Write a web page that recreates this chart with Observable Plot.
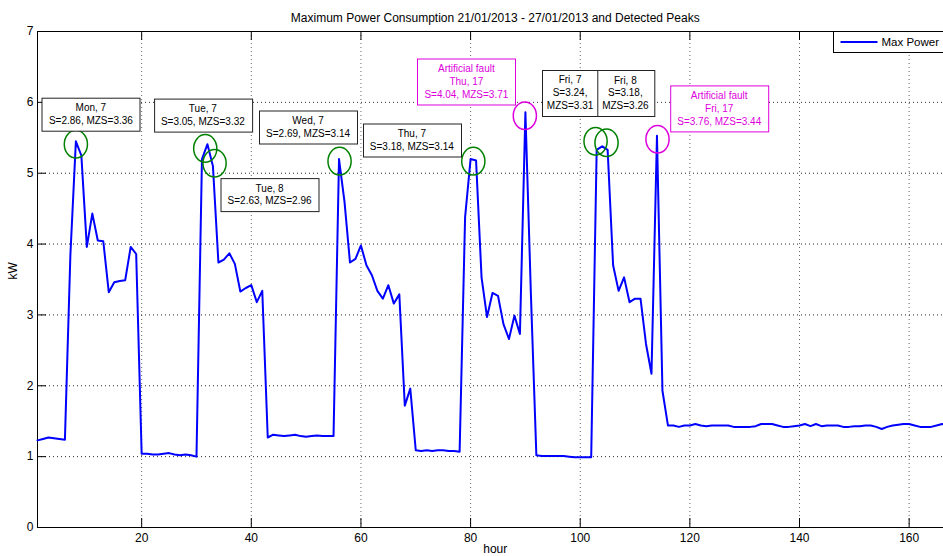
<!DOCTYPE html>
<html><head><meta charset="utf-8">
<script src="https://cdn.jsdelivr.net/npm/d3@7"></script>
<script src="https://cdn.jsdelivr.net/npm/@observablehq/plot@0.6"></script>
<style>
html,body{margin:0;padding:0;overflow:hidden;background:#fff;width:943px;height:556px}
#chart{width:943px;height:556px;overflow:hidden}
#chart svg{display:block;max-width:none !important}
</style></head><body><div id="chart"></div>
<script>
// ---- data (hourly maximum power, kW) ----
const mon = [1.23,1.25,1.27,1.26,1.25,1.24,3.85,5.45,5.25,3.96,4.43,4.05,4.04,3.32,3.46,3.48,3.49,3.96,3.86,1.04,1.04,1.03,1.03,1.04];
const tue = [1.05,1.03,1.02,1.03,1.02,1.00,5.20,5.41,5.10,3.74,3.78,3.87,3.72,3.33,3.38,3.42,3.18,3.34,1.27,1.31,1.30,1.29,1.30,1.31];
const wed = [1.29,1.28,1.29,1.30,1.29,1.29,1.29,5.20,4.60,3.74,3.79,3.98,3.70,3.56,3.34,3.23,3.42,3.16,3.29,1.72,1.96,1.09,1.08,1.09];
const thu = [1.08,1.09,1.09,1.08,1.08,1.07,4.38,5.20,5.18,3.53,2.97,3.31,3.27,2.87,2.66,2.99,2.73,5.86,3.30,1.02,1.01,1.01,1.01,1.01];
const fri = [1.01,1.00,0.99,0.99,0.99,0.99,5.33,5.38,5.33,3.70,3.34,3.53,3.18,3.23,3.23,2.59,2.17,5.53,1.93,1.44,1.44,1.42,1.44,1.44];
const sat = [1.46,1.44,1.43,1.44,1.44,1.44,1.44,1.42,1.42,1.42,1.42,1.43,1.46,1.46,1.46,1.44,1.42,1.42,1.43,1.44,1.46,1.43,1.46,1.43];
const sun = [1.44,1.44,1.44,1.42,1.42,1.43,1.43,1.44,1.44,1.42,1.39,1.42,1.44,1.45,1.46,1.46,1.44,1.42,1.42,1.42,1.44,1.46,1.45,1.45];

const xTicks = [20,40,60,80,100,120,140,160];
const yTicks = [0,1,2,3,4,5,6,7];
const title = "Maximum Power Consumption 21/01/2013 - 27/01/2013 and Detected Peaks";
const xLabel = "hour";
const yLabel = "kW";
const seriesName = "Max Power";

// detected peaks (circle positions)
const peakHour = [8.0, 31.6, 33.3, 56.1, 80.5, 89.9, 102.8, 104.8, 114.1];
const peakKw   = [5.41, 5.35, 5.14, 5.17, 5.17, 5.81, 5.45, 5.43, 5.48];
const peakFault = [false,false,false,false,false,true,false,false,true];
const peakLabel = [
  "Mon, 7\nS=2.86, MZS=3.36",
  "Tue, 7\nS=3.05, MZS=3.32",
  "Tue, 8\nS=2.63, MZS=2.96",
  "Wed, 7\nS=2.69, MZS=3.14",
  "Thu, 7\nS=3.18, MZS=3.14",
  "Artificial fault\nThu, 17\nS=4.04, MZS=3.71",
  "Fri, 7\nS=3.24,\nMZS=3.31",
  "Fri, 8\nS=3.18,\nMZS=3.26",
  "Artificial fault\nFri, 17\nS=3.76, MZS=3.44"
];
// label placement (pixel offsets from the peak circle) - styling only
const labelOffset = [[15,-30.8],[-2.4,-33.9],[55,30.6],[-31.5,-35],[-61.5,-22],[-58.5,-35],[-25.5,-49.5],[18.8,-50.5],[61.7,-31.1]];
const labelPadX = [7,7,7,7,7,7,5,5,7];

const power = [...mon,...tue,...wed,...thu,...fri,...sat,...sun];
const series = power.map((v,i)=>({hour:i+1, kw:v}));
const peaks = peakHour.map((h,i)=>({hour:h, kw:peakKw[i], fault:peakFault[i], label:peakLabel[i]}));

const GREEN = "#008000", MAGENTA = "#dd00dd", BLUE = "#0000ff";

const ellipse = {draw(ctx, size){
  const r = Math.sqrt(size/Math.PI), rx = r*0.84, ry = r, k = 0.5523;
  ctx.moveTo(rx,0);
  ctx.bezierCurveTo(rx, ry*k, rx*k, ry, 0, ry);
  ctx.bezierCurveTo(-rx*k, ry, -rx, ry*k, -rx, 0);
  ctx.bezierCurveTo(-rx, -ry*k, -rx*k, -ry, 0, -ry);
  ctx.bezierCurveTo(rx*k, -ry, rx, -ry*k, rx, 0);
  ctx.closePath();
}};

const annotationMarks = peaks.map((p,i)=>Plot.text([p], {
  x:"hour", y:"kw", text:"label",
  dx: labelOffset[i][0], dy: labelOffset[i][1],
  fontSize: 10, lineHeight: 1.28, textAnchor:"middle", lineAnchor:"middle",
  fill: p.fault ? MAGENTA : "#000"
}));

const chart = Plot.plot({
  width: 953, height: 556,
  marginLeft: 37, marginRight: 0.5, marginTop: 31, marginBottom: 29,
  style: {fontFamily: "'Liberation Sans', Arial, Helvetica, sans-serif", fontSize: "12px", color: "#000", background: "#fff", overflow: "visible"},
  x: {domain: [1,168], ticks: xTicks, tickSize: 0, tickPadding: 6, label: null, tickFormat: d3.format("d")},
  y: {domain: [0,7], ticks: yTicks, tickSize: 0, tickPadding: 4, label: null, tickFormat: d3.format("d")},
  marks: [
    Plot.gridX(xTicks, {stroke:"#555", strokeOpacity: 0.9, strokeDasharray:"1,3"}),
    Plot.gridY(yTicks.slice(1,-1), {stroke:"#111", strokeOpacity: 0.9, strokeDasharray:"1,3"}),
    Plot.ruleX(xTicks, {y1: 0, y2: 0.127, stroke:"#000"}),
    Plot.ruleX(xTicks, {y1: 7, y2: 6.873, stroke:"#000"}),
    Plot.ruleY(yTicks, {x1: 1, x2: 2.64, stroke:"#000"}),
    Plot.frame({stroke:"#000"}),
    Plot.line(series, {x:"hour", y:"kw", stroke: BLUE, strokeWidth: 2}),
    Plot.dot(peaks, {x:"hour", y:"kw", r: 13.8, symbol: ellipse, fill:"none", strokeWidth: 1.5,
      stroke: d => d.fault ? MAGENTA : GREEN}),
    ...annotationMarks,
    Plot.text([title], {text: d=>d, frameAnchor:"top", dy:-13.5, lineAnchor:"middle", fontSize: 12, fill:"#000"}),
    Plot.text([xLabel], {text: d=>d, frameAnchor:"bottom", dy:21.5, lineAnchor:"middle", fontSize: 12, fill:"#000"}),
    Plot.text([yLabel], {text: d=>d, frameAnchor:"left", dx:-24.5, rotate:-90, lineAnchor:"middle", fontSize: 12, fill:"#000"})
  ]
});

document.getElementById("chart").append(chart);

// frames around the annotation texts
peaks.forEach((p,i)=>{
  const want = p.label.replace(/\n/g,"");
  const g = Array.from(chart.querySelectorAll("g")).find(el => el.textContent === want && el.querySelector("text"));
  if (!g) return;
  const bb = g.getBBox();
  const padX = labelPadX[i], padY = 4.5;
  const rect = document.createElementNS("http://www.w3.org/2000/svg","rect");
  rect.setAttribute("x", Math.round(bb.x - padX) + 0.5);
  rect.setAttribute("y", Math.round(bb.y - padY) + 0.5);
  rect.setAttribute("width", Math.round(bb.width + 2*padX));
  rect.setAttribute("height", Math.round(bb.height + 2*padY));
  rect.setAttribute("fill", "#fff");
  rect.setAttribute("stroke", p.fault ? MAGENTA : "#222");
  rect.setAttribute("stroke-width", 1);
  g.insertBefore(rect, g.firstChild);
});

// legend (top-right; box runs past the right edge like the original)
const svg = d3.select(chart);
const leg = svg.append("g");
leg.append("rect").attr("x", 833.5).attr("y", 31.5).attr("width", 160).attr("height", 21)
  .attr("fill","#fff").attr("stroke","#000");
leg.append("line").attr("x1", 840.5).attr("x2", 877.5).attr("y1", 42).attr("y2", 42)
  .attr("stroke", BLUE).attr("stroke-width", 2);
leg.append("text").attr("x", 881.5).attr("y", 42).attr("dy","0.35em")
  .attr("text-anchor","start")
  .attr("font-size", 11.5).attr("fill","#000").text(seriesName);
</script>
</body></html>
